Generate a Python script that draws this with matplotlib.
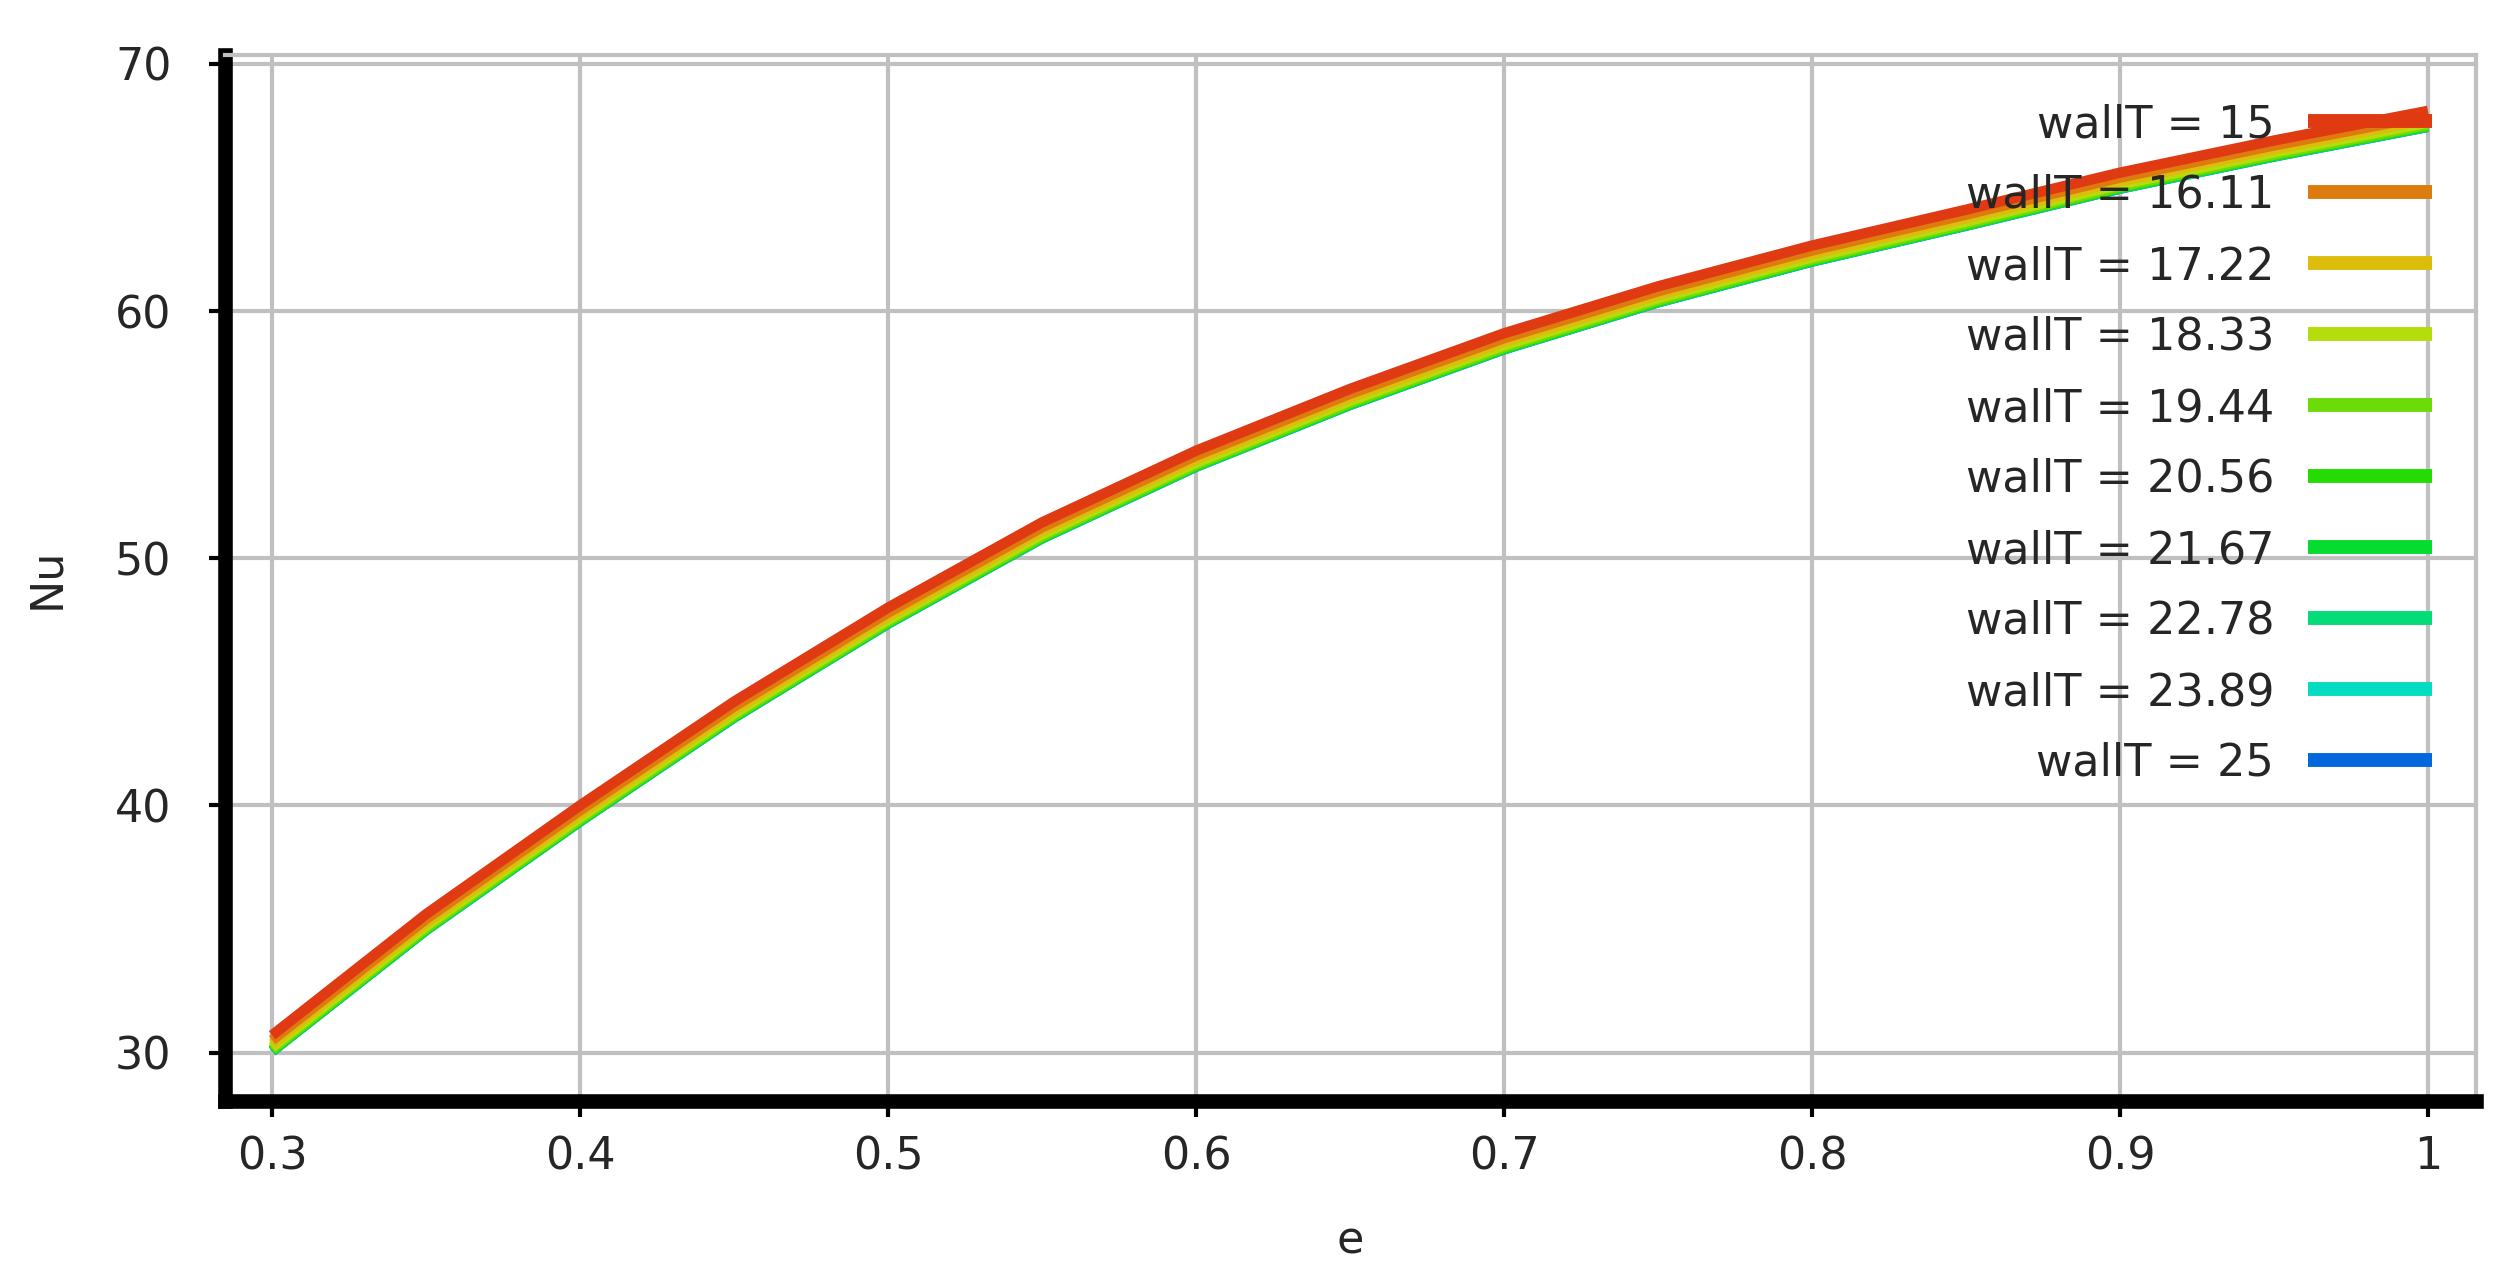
import matplotlib
matplotlib.use("Agg")
import matplotlib.pyplot as plt

e_vals = [0.30, 0.35, 0.40, 0.45, 0.50, 0.55, 0.60, 0.65, 0.70, 0.75, 0.80, 0.85, 0.90, 0.95, 1.00]

wallT_labels = ["15", "16.11", "17.22", "18.33", "19.44", "20.56", "21.67", "22.78", "23.89", "25"]

nu_15 = [30.7, 35.6, 40.0, 44.2, 48.0, 51.45, 54.35, 56.85, 59.1, 61.0, 62.65, 64.1, 65.6, 66.9, 68.1]
nu_16_11 = [30.5, 35.4, 39.8, 44.0, 47.8, 51.25, 54.15, 56.65, 58.9, 60.8, 62.45, 63.9, 65.4, 66.7, 67.9]
nu_17_22 = [30.35, 35.25, 39.65, 43.85, 47.65, 51.1, 54.0, 56.5, 58.75, 60.65, 62.3, 63.75, 65.25, 66.55, 67.75]
nu_18_33 = [30.22, 35.12, 39.52, 43.72, 47.52, 50.97, 53.87, 56.37, 58.62, 60.52, 62.17, 63.62, 65.12, 66.42, 67.62]
nu_19_44 = [30.13, 35.03, 39.43, 43.63, 47.43, 50.88, 53.78, 56.28, 58.53, 60.43, 62.08, 63.53, 65.03, 66.33, 67.53]
nu_20_56 = [30.1, 35.0, 39.4, 43.6, 47.4, 50.85, 53.75, 56.25, 58.5, 60.4, 62.05, 63.5, 65.0, 66.3, 67.5]
nu_21_67 = [30.08, 34.98, 39.38, 43.58, 47.38, 50.83, 53.73, 56.23, 58.48, 60.38, 62.03, 63.48, 64.98, 66.28, 67.48]
nu_22_78 = [30.07, 34.97, 39.37, 43.57, 47.37, 50.82, 53.72, 56.22, 58.47, 60.37, 62.02, 63.47, 64.97, 66.27, 67.47]
nu_23_89 = [30.06, 34.96, 39.36, 43.56, 47.36, 50.81, 53.71, 56.21, 58.46, 60.36, 62.01, 63.46, 64.96, 66.26, 67.46]
nu_25 = [30.05, 34.95, 39.35, 43.55, 47.35, 50.8, 53.7, 56.2, 58.45, 60.35, 62.0, 63.45, 64.95, 66.25, 67.45]

nu_series = [nu_15, nu_16_11, nu_17_22, nu_18_33, nu_19_44,
             nu_20_56, nu_21_67, nu_22_78, nu_23_89, nu_25]

colors = ["#e03a12", "#dd7b0f", "#dcbd0c", "#b5dc0b", "#6cdc08",
          "#24dc04", "#06dc30", "#04dc78", "#03dcc0", "#0068dc"]

x_ticks = [0.3, 0.4, 0.5, 0.6, 0.7, 0.8, 0.9, 1.0]
x_ticklabels = ["0.3", "0.4", "0.5", "0.6", "0.7", "0.8", "0.9", "1"]
y_ticks = [30, 40, 50, 60, 70]

plt.rcParams['font.family'] = ['DejaVu Sans']

W, H = 2505, 1275
fig = plt.figure(figsize=(W / 100, H / 100), dpi=100)
# axes box in pixels: left 225, right 2476, top 55, bottom 1101
ax = fig.add_axes([225 / W, 1 - 1101 / H, (2476 - 225) / W, (1101 - 55) / H])

# draw the hottest wall temperature last so it sits on top
lines = [None] * len(nu_series)
for i in reversed(range(len(nu_series))):
    lines[i], = ax.plot(e_vals, nu_series[i], color=colors[i], linewidth=7.5,
                        solid_capstyle='butt', solid_joinstyle='round',
                        label="wallT = " + wallT_labels[i])

ax.set_xlim(0.2847, 1.0156)
ax.set_ylim(28.04, 70.36)
ax.set_xticks(x_ticks)
ax.set_xticklabels(x_ticklabels)
ax.set_yticks(y_ticks)
ax.grid(True, color='#c0c0c0', linewidth=3)
ax.set_axisbelow(True)

for side in ['left', 'bottom']:
    ax.spines[side].set_color('black')
    ax.spines[side].set_linewidth(10.5)
for side in ['top', 'right']:
    ax.spines[side].set_color('#c0c0c0')
    ax.spines[side].set_linewidth(3)

ax.tick_params(axis='both', direction='out', length=11.5, width=3, color='black',
               labelsize=32, labelcolor='#262626')
ax.tick_params(axis='y', pad=27)
ax.tick_params(axis='x', pad=13)

ax.set_xlabel("e", fontsize=32, color='#262626', labelpad=30)
ax.set_ylabel("Nu", fontsize=32, color='#262626', labelpad=34)

leg = ax.legend(handles=lines, loc='upper right', frameon=False, markerfirst=False,
                fontsize=32, handlelength=2.8, handletextpad=0.75, labelspacing=0.63,
                borderpad=0, borderaxespad=0,
                bbox_to_anchor=(2432 / W, 1 - 103 / H), bbox_transform=fig.transFigure)
for t in leg.get_texts():
    t.set_color('#262626')
for h in leg.legend_handles:
    h.set_linewidth(10)

fig.savefig("out.png", dpi=100)
